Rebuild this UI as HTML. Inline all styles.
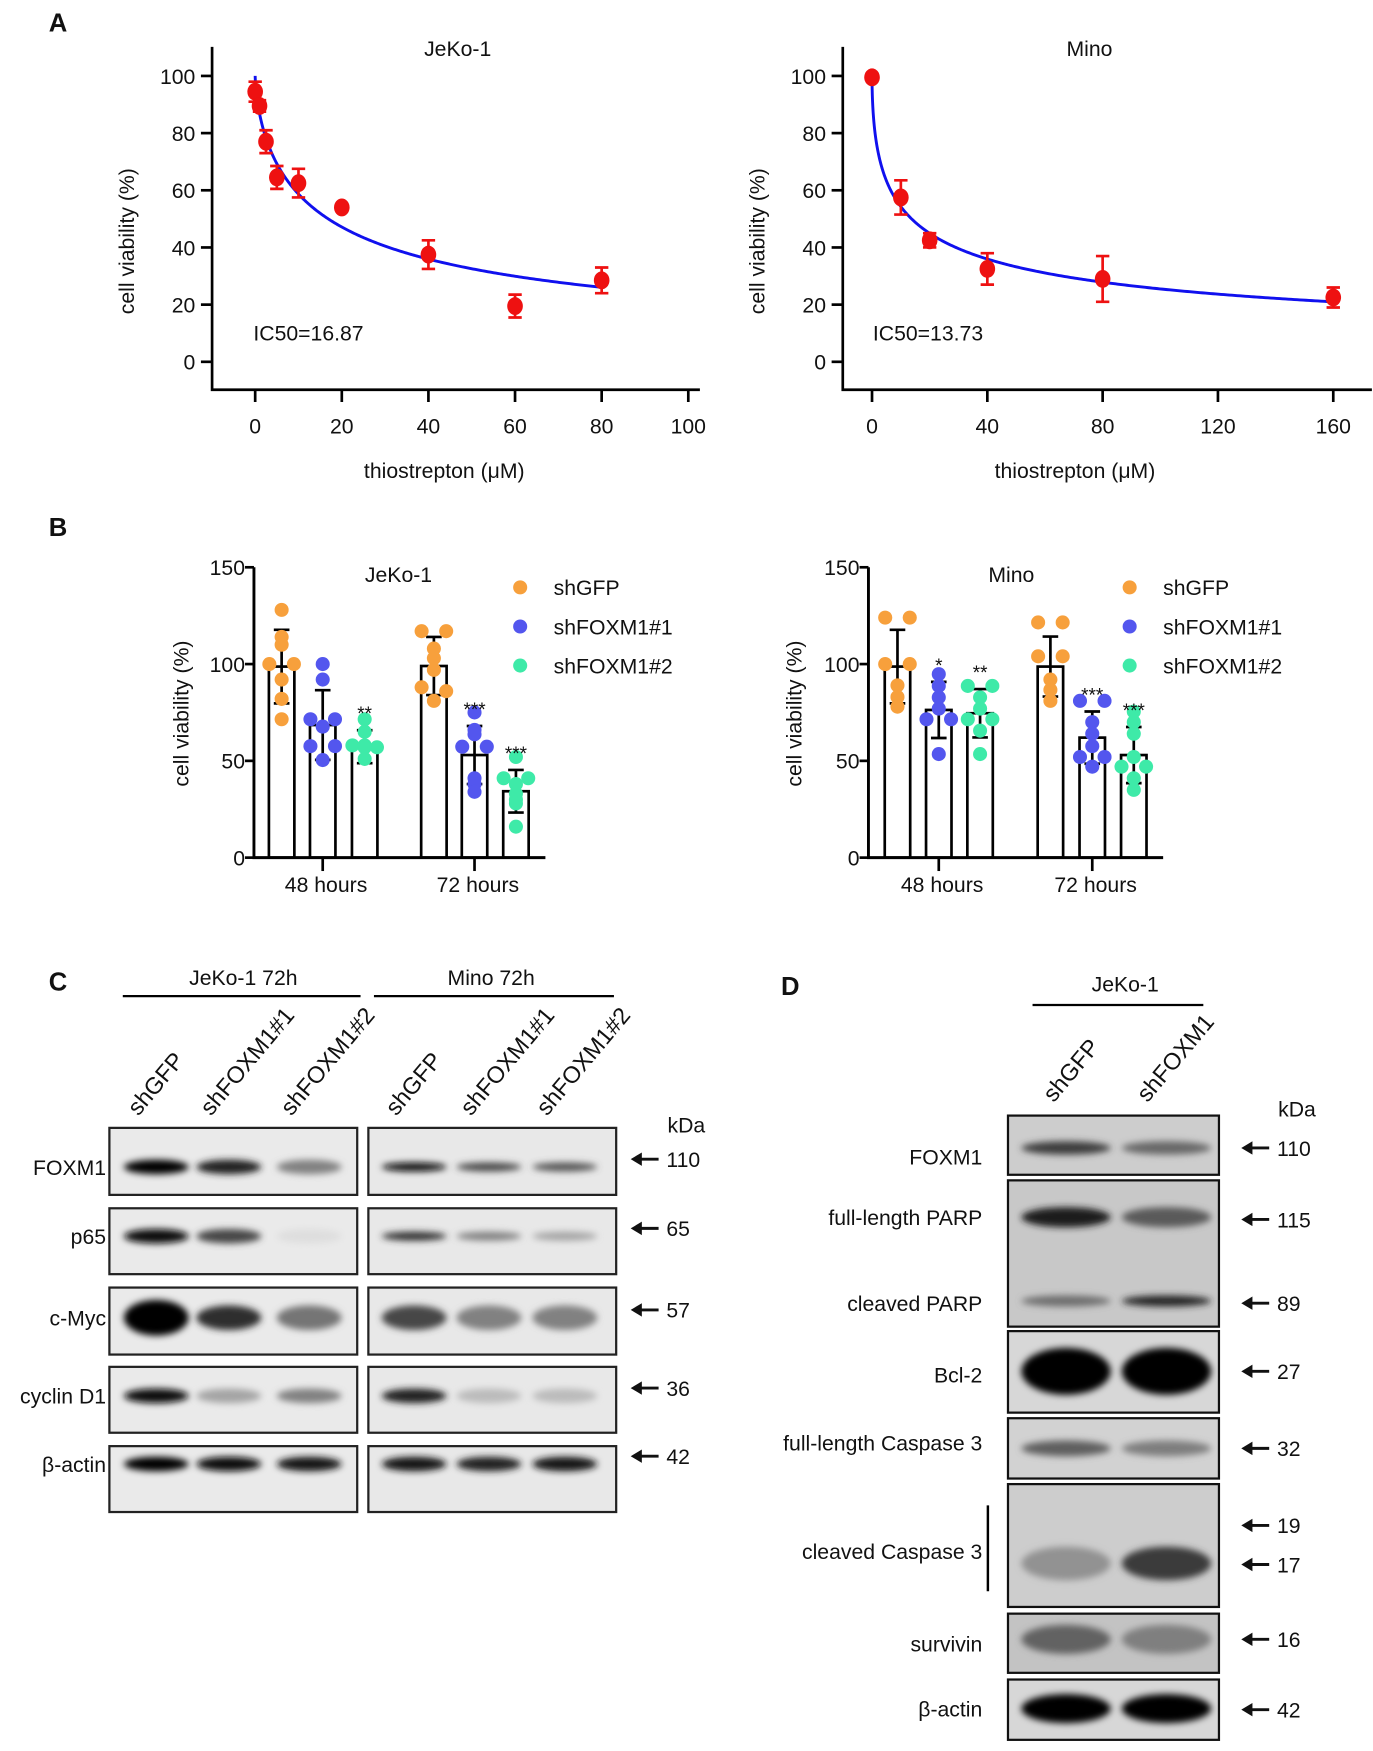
<!DOCTYPE html>
<html><head><meta charset="utf-8"><style>
html,body{margin:0;padding:0;background:#fff}
svg{display:block}
text{font-family:"Liberation Sans",Arial,sans-serif;fill:#111}
</style></head><body>
<svg id="fig" width="1373" height="1751" viewBox="0 0 1230 1568" preserveAspectRatio="none" xmlns="http://www.w3.org/2000/svg">
<defs>
<filter id="blur" x="-30%" y="-200%" width="160%" height="500%"><feGaussianBlur stdDeviation="3.2"/></filter>
</defs>
</svg>
<script>
// ---------- Panel A data ----------
const jekoDose=[0,1,2.5,5,10,20,40,60,80];
const jekoViab=[94.5,89.5,77,64.5,62.5,54,37.5,19.5,28.5];
const jekoErr=[3.5,2,4,4,5,0,5,4,4.5];
const jekoIC50=16.87, jekoHill=0.67;
const minoDose=[0,10,20,40,80,160];
const minoViab=[99.5,57.5,42.5,32.5,29,22.5];
const minoErr=[0,6,2.5,5.5,8,3.5];
const minoIC50=13.73, minoHill=0.54;
const aYTicks=[0,20,40,60,80,100];
const jekoXTicks=[0,20,40,60,80,100];
const minoXTicks=[0,40,80,120,160];

// ---------- Panel B data ----------
const groups=["shGFP","shFOXM1#1","shFOXM1#2"];
const groupColors=["#f7a03c","#5356ee","#3eeaa8"];
const timeLabels=["48 hours","72 hours"];
const bYTicks=[0,50,100,150];
const jekoMeans=[98.7,68.5,57.3,99,53,34.3];
const jekoSD=[19,18,8.5,15,15,11];
const jekoPts=[[128,114,110,100,100,92,82,71.5],[100,92,71.5,71.5,67.7,57.6,57.6,50.4],[71.5,65,58,57,57,58,57,51],[117,117,108,103,97,88,86,81],[75,66,63.7,57.3,57.3,41,38,34],[52,41,41,38,33,30,28,16]];
const jekoSig=["","","**","","***","***"];
const minoMeans=[98.7,76.3,74.6,98.7,62,53];
const minoSD=[19,14.5,12.5,15.5,13.5,14.5];
const minoPts=[[124,124,100,100,89,83,78],[94.8,88.7,82.8,77,71.5,71.5,53.5],[88.7,88.7,82.8,77,71.5,71.5,65.6,53.5],[121.5,121.5,104,104,92,86.7,81],[81,81,70,64,57.6,52,52,47],[75.4,70,64,52,47,47,41,35]];
const minoSig=["","*","**","","***","***"];

// ---------- Blot data (band intensity 0..1 per lane) ----------
const cRows=["FOXM1","p65","c-Myc","cyclin D1","β-actin"];
const cKda=["110","65","57","36","42"];
const cJeko=[[1,0.85,0.45],[0.95,0.7,0.05],[1,0.8,0.5],[0.95,0.3,0.45],[1,0.95,0.9]];
const cMino=[[0.95,0.7,0.65],[0.8,0.45,0.3],[0.7,0.45,0.45],[0.85,0.2,0.2],[0.9,0.85,0.9]];
const dRows=["FOXM1","full-length PARP","cleaved PARP","Bcl-2","full-length Caspase 3","cleaved Caspase 3","survivin","β-actin"];
const dKda=["110","115","89","27","32","19","16","42"];
const dGFP=[0.7,0.85,0.45,1,0.55,0.25,0.5,1];
const dFOX=[0.5,0.55,0.8,1,0.4,0.7,0.35,1];

const svg=document.getElementById('fig');
const NS="http://www.w3.org/2000/svg";
function mk(tag,attrs,parent,txt){const e=document.createElementNS(NS,tag);for(const k in attrs)e.setAttribute(k,attrs[k]);if(txt!==undefined)e.textContent=txt;(parent||svg).appendChild(e);return e;}
function grp(name,parent){const g=mk('g',{},parent);return g;}
function label(name,x,y,t,size,anchor,parent,extra){const e=mk('text',Object.assign({x:x,y:y,'font-size':size,'text-anchor':anchor||'middle'},extra||{}),parent,t);return e;}

// panel letters
[["A",52,28],["B",52,480],["C",52,887],["D",708,891]].forEach(p=>{label('panel-letter-'+p[0].toLowerCase(),p[1],p[2],p[0],23,'middle',svg,{'font-weight':'bold'});});

// ---------- Dose-response plots ----------
function doseChart(name,cfg){
  const g=grp(name);
  const ys=v=>cfg.y0-(v/100)*(cfg.y0-cfg.y100);
  const xs=v=>cfg.x0+(v/cfg.xStep)*cfg.xStepPx;
  const ax=mk('path',{d:`M${cfg.ax},${cfg.top}V${cfg.axB}H${cfg.axR}`,stroke:'#000','stroke-width':2.4,fill:'none'},g);
  
  aYTicks.forEach(t=>{mk('line',{x1:cfg.ax-10,x2:cfg.ax,y1:ys(t),y2:ys(t),stroke:'#000','stroke-width':2.4},g);
    label('y-tick-label',cfg.ax-15,ys(t)+7,String(t),19,'end',g);});
  cfg.xt.forEach(t=>{mk('line',{x1:xs(t),x2:xs(t),y1:cfg.axB,y2:cfg.axB+11,stroke:'#000','stroke-width':2.4},g);
    label('x-tick-label',xs(t),cfg.axB+39,String(t),19,'middle',g);});
  label('x-axis-title',cfg.xtX,cfg.axB+79,'thiostrepton (μM)',19,'middle',g);
  label('y-axis-title',0,0,'cell viability (%)',19,'middle',g,{transform:`translate(${cfg.ytX},${cfg.ytY}) rotate(-90)`});
  label('chart-title',cfg.titleX,50,cfg.title,19,'middle',g);
  label('ic50-label',cfg.icX,305,cfg.ic,19,'start',g);
  let d="";
  for(let i=0;i<=300;i++){const x=cfg.xmax*Math.pow(i/300,2);const y=100/(1+Math.pow(x/cfg.ic50,cfg.hill));d+=(i?"L":"M")+xs(x).toFixed(2)+","+ys(y).toFixed(2);}
  const c=mk('path',{d:d,stroke:'#1010ee','stroke-width':2.6,fill:'none'},g);
  
  cfg.dose.forEach((x,i)=>{
    const e=cfg.err[i],cx=xs(x),v=cfg.viab[i];
    if(e>0){mk('path',{d:`M${cx},${ys(v+e)}V${ys(v-e)}M${cx-6},${ys(v+e)}h12M${cx-6},${ys(v-e)}h12`,stroke:'#ee1111','stroke-width':2.4,fill:'none'},g);}
    const p=mk('ellipse',{cx:cx,cy:ys(v),rx:7,ry:8,fill:'#ee1111'},g);
    
  });
}
doseChart('jeko-dose-chart',{x0:228.6,xStep:20,xStepPx:77.6,y0:324,y100:68,ax:190,top:42,axB:349,axR:627,xt:jekoXTicks,xtX:398,ytX:120,ytY:216,titleX:410,title:'JeKo-1',icX:227,ic:'IC50=16.87',ic50:jekoIC50,hill:jekoHill,xmax:80,dose:jekoDose,viab:jekoViab,err:jekoErr});
doseChart('mino-dose-chart',{x0:781.2,xStep:40,xStepPx:103.3,y0:324,y100:68,ax:755,top:42,axB:349,axR:1229,xt:minoXTicks,xtX:963,ytX:685,ytY:216,titleX:976,title:'Mino',icX:782,ic:'IC50=13.73',ic50:minoIC50,hill:minoHill,xmax:160,dose:minoDose,viab:minoViab,err:minoErr});

// ---------- Bar charts ----------
function barChart(name,cfg){
  const g=grp(name);
  const ys=v=>768-(v/150)*260;
  bYTicks.forEach(t=>{mk('line',{x1:cfg.ax-8,x2:cfg.ax,y1:ys(t),y2:ys(t),stroke:'#000','stroke-width':2.4},g);
    label('y-tick-label',cfg.ax-8,ys(t)+7,String(t),19,'end',g);});
  label('y-axis-title',0,0,'cell viability (%)',19,'middle',g,{transform:`translate(${cfg.ytX},639) rotate(-90)`});
  label('chart-title',cfg.titleX,521,cfg.title,19,'middle',g);
  cfg.means.forEach((m,i)=>{
    const cx=cfg.bx[i];
    const b=mk('rect',{x:cx-11.4,y:ys(m),width:22.8,height:768-ys(m),fill:'#fff',stroke:'#000','stroke-width':2.4},g);
    
    
    const sd=cfg.sd[i];
    mk('path',{d:`M${cx},${ys(m+sd)}V${ys(m-sd)}M${cx-7},${ys(m+sd)}h14M${cx-7},${ys(m-sd)}h14`,stroke:'#000','stroke-width':2.4,fill:'none'},g);
    const pts=cfg.pts[i];const seen={};
    pts.forEach((v,j)=>{
      const key=Math.round(v/3);seen[key]=(seen[key]||0)+1;
      const ox=seen[key]===1?(pts.filter(q=>Math.round(q/3)===key).length>1?-11:0):(seen[key]===2?11:0);
      const p=mk('circle',{cx:cx+ox,cy:ys(v),r:6.3,fill:groupColors[i%3]},g);
      
    });
    if(cfg.sig[i]){label('significance-mark',cx,ys(m+sd)-9,cfg.sig[i],17,'middle',g);}
  });
  mk('path',{d:`M${cfg.ax},508V768H${cfg.axR}`,stroke:'#000','stroke-width':2.6,fill:'none'},g);
  cfg.gt.forEach((x,k)=>{mk('line',{x1:x,x2:x,y1:768,y2:780,stroke:'#000','stroke-width':2.4},g);
    label('x-tick-label',x+3,799,timeLabels[k],19,'middle',g);});
  groups.forEach((s,k)=>{
    const lg=grp('legend-entry-'+s.toLowerCase().replace('#','-'),g);
    mk('circle',{cx:cfg.lx,cy:526+35*k,r:6.3,fill:groupColors[k]},lg);
    label('legend-label',cfg.lx+30,533+35*k,s,19,'start',lg);
  });
}
barChart('jeko-bar-chart',{ax:227.5,axR:488.6,bx:[252.3,289.1,326.7,388.7,425.1,462.2],gt:[289.1,425.1],ytX:169,titleX:357,title:'JeKo-1',lx:466,means:jekoMeans,sd:jekoSD,pts:jekoPts,sig:jekoSig});
barChart('mino-bar-chart',{ax:778,axR:1042,bx:[804,841,878,941,978.5,1015.7],gt:[841,978.5],ytX:718,titleX:906,title:'Mino',lx:1012,means:minoMeans,sd:minoSD,pts:minoPts,sig:minoSig});

// ---------- Western blots ----------
function arrow(g,x,y,t){mk('path',{d:`M${x+25},${y}H${x+6}`,stroke:'#111','stroke-width':2.6},g);
  mk('path',{d:`M${x},${y}l10,-6v12z`,fill:'#111'},g);label('kda-label',x+32,y+7,t,19,'start',g);}
function band(g,cx,y,w,h,inten,bg){
  if(inten<=0.03)return;
  const shade=Math.round(bg*(1-inten));
  mk('ellipse',{cx:cx,cy:y,rx:w/2,ry:h/2,fill:`rgb(${shade},${shade},${shade})`,filter:'url(#blur)'},g);
}
// Panel C
const gC=grp('panel-c-blots');
label('header-jeko-72h',218,882,'JeKo-1 72h',19,'middle',gC);
mk('line',{x1:110,x2:323,y1:892,y2:892,stroke:'#000','stroke-width':2},gC);
label('header-mino-72h',440,882,'Mino 72h',19,'middle',gC);
mk('line',{x1:335,x2:550,y1:892,y2:892,stroke:'#000','stroke-width':2},gC);
const cLanesJ=[140,205,277],cLanesM=[371,438,506],cLaneNames=["shGFP","shFOXM1#1","shFOXM1#2"];
cLanesJ.concat(cLanesM).forEach((x,i)=>{label('lane-label',0,0,cLaneNames[i%3],21,'start',gC,{transform:`translate(${x-16},${1000}) rotate(-50)`});});
label('kda-header',598,1014,'kDa',19,'start',gC);
const cTop=[1010,1082,1153,1224,1295],cH=[60,59,60,59,59],cBandY=[1045,1107,1180,1250,1311];
cRows.forEach((r,i)=>{
  const rg=grp('blot-row-'+r.toLowerCase().replace(/[^a-z0-9]+/g,'-'),gC);
  label('row-label',95,cBandY[i]+7,r,19,'end',rg);
  [[98,cJeko[i],cLanesJ],[330,cMino[i],cLanesM]].forEach(([bx,vals,lanes])=>{
    mk('rect',{x:bx,y:cTop[i],width:222,height:cH[i],fill:bx<300?'#eaeaea':'#e8e8e8',stroke:'#222','stroke-width':2},rg);
    const bh=(r==='c-Myc')?22:(bx>300&&i<2?8:13);
    vals.forEach((v,k)=>band(rg,lanes[k],cBandY[i],58,bh+(r==='c-Myc'&&bx<300&&k==0?10:0),v,234));
  });
  arrow(rg,565,cBandY[i]-7,cKda[i]);
});
// Panel D
const gD=grp('panel-d-blots');
label('header-jeko-1',1008,888,'JeKo-1',19,'middle',gD);
mk('line',{x1:925,x2:1078,y1:900,y2:900,stroke:'#000','stroke-width':2},gD);
label('lane-label',0,0,'shGFP',21,'start',gD,{transform:'translate(944,988) rotate(-50)'});
label('lane-label',0,0,'shFOXM1',21,'start',gD,{transform:'translate(1028,988) rotate(-50)'});
label('kda-header',1145,1000,'kDa',19,'start',gD);
const dBoxes=[[999,53],[1057,131],[1192,73],[1270,54],[1329,110],[1445,53],[1504,54]];
const dBoxBg=[205,200,215,210,205,195,215];
dBoxes.forEach((b,i)=>{const s=dBoxBg[i];const r=mk('rect',{x:903,y:b[0],width:189,height:b[1],fill:`rgb(${s},${s},${s})`,stroke:'#111','stroke-width':2},gD);
  });
const dLabelY=[1036,1090,1167,1231,1292,1389,1472,1530];
const dBandY=[1028,1090,1165,1228,1297,1400,1468,1530];
const dBandH=[12,18,10,42,14,30,26,26];
const dBgRow=[205,200,200,215,210,195,195,215];
const dArrowY=[1028,1092,1167,1228,1297,1366,1401,1468,1531];
const dArrowK=["110","115","89","27","32","19","17","16","42"];
dRows.forEach((r,i)=>{
  const rg=grp('blot-row-'+r.toLowerCase().replace(/[^a-z0-9]+/g,'-'),gD);
  label('row-label',880,dLabelY[i]+7,r,19,'end',rg);
  band(rg,955,dBandY[i],80,dBandH[i],dGFP[i],dBgRow[i]);
  band(rg,1045,dBandY[i],80,dBandH[i],dFOX[i],dBgRow[i]);
});
mk('line',{x1:885,x2:885,y1:1348,y2:1425,stroke:'#000','stroke-width':2.2},gD);
dArrowY.forEach((y,i)=>arrow(gD,1112,y,dArrowK[i]));
</script>
</body></html>
